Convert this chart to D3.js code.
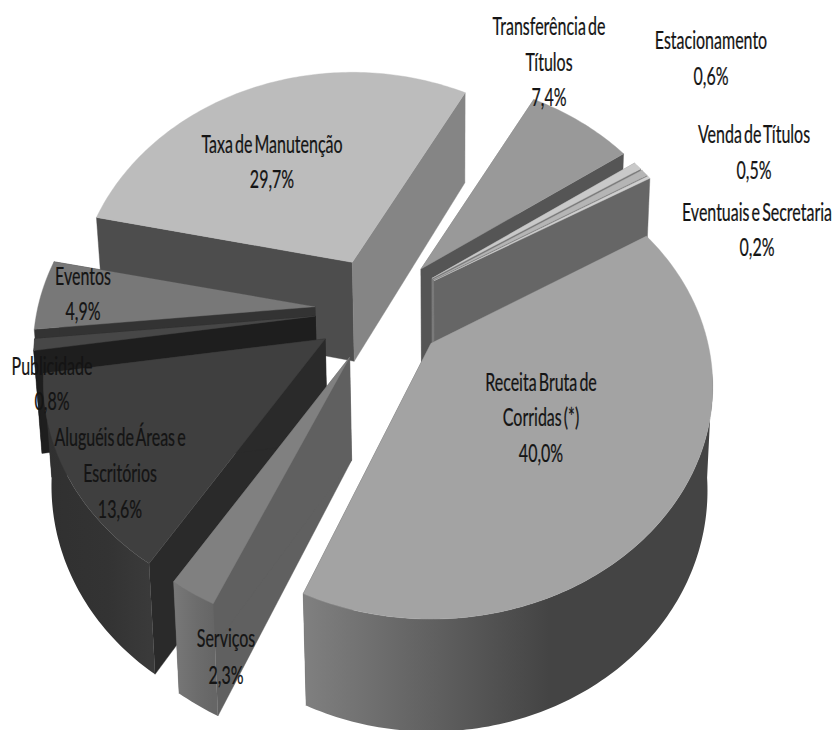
<!DOCTYPE html>
<html><head><meta charset="utf-8">
<style>html,body{margin:0;padding:0;background:#fff}svg{display:block}</style>
<script src="https://cdn.jsdelivr.net/npm/d3@7/dist/d3.min.js"></script>
</head><body><svg id="c" width="838" height="730"></svg>
<script>
// ---- data
const categories = ["Receita Bruta de Corridas (*)","Serviços","Aluguéis de Áreas e Escritórios","Publicidade","Eventos","Taxa de Manutenção","Transferência de Títulos","Estacionamento","Venda de Títulos","Eventuais e Secretaria"];
const values = [40.0,2.3,13.6,0.8,4.9,29.7,7.4,0.6,0.5,0.2];
const valueLabels = ["40,0%","2,3%","13,6%","0,8%","4,9%","29,7%","7,4%","0,6%","0,5%","0,2%"];
const nameLines = [["Receita Bruta de","Corridas (*)"],["Serviços"],["Aluguéis de Áreas e","Escritórios"],["Publicidade"],["Eventos"],["Taxa de Manutenção"],["Transferência de","Títulos"],["Estacionamento"],["Venda de Títulos"],["Eventuais e Secretaria"]];
// ---- styles
const topFill  = ["#a3a3a3","#808080","#3f3f3f","#474747","#787878","#bcbcbc","#999999","#c9c9c9","#b5b5b5","#cfcfcf"];
const startFill= ["#555555","#606060","#2a2a2a","#1e1e1e","#333333","#4d4d4d","#777777","#888888","#888888","#888888"];
const endFill  = ["#555555","#606060","#2a2a2a","#1e1e1e","#333333","#858585","#555555","#7a7a7a","#7a7a7a","#666666"];
const outerStops=[["#808080","#444444","#444444"],["#787878","#6c6c6c","#666666"],["#303030","#333333","#3a3a3a"],["#111111","#111111","#111111"],["#555555","#555555","#555555"],["#666666","#666666","#666666"],["#777777","#777777","#777777"],["#888888","#888888","#888888"],["#888888","#888888","#888888"],["#888888","#888888","#888888"]];
// label centres: x, then y per line
const labelPos = [[541,[382,417,453]],[226,[638,675]],[120,[437,473,509]],[52,[366,401]],[83,[276,311]],[272,[144,179]],[549,[26,62,97]],[711,[40,76]],[754,[134,170]],[757,[212,247]]];
// ---- projection
const W=838,H=730, CX=380, CY=308, F=277, G=225, K=0.184, EXPLODE=0.235, VANISH=450;
const START = 58.5*Math.PI/180, TWIST = 1.7*Math.PI/180;
function hom(u,v){const d=1-K*v;return [F*u/d,G*v/d];}
const depth = V => 101+10*V;
const arcs = d3.pie().sort(null).value(d=>d).startAngle(START).endAngle(START+2*Math.PI)(values);
const svg=d3.select("#c");
const defs=svg.append("defs");
const line=d3.line();
const slices=arcs.map((a,i)=>{
  const mid=(a.startAngle+a.endAngle)/2;
  const eu=EXPLODE*Math.sin(mid), ev=-EXPLODE*Math.cos(mid);
  const [ax,ay]=hom(eu,ev);
  const apexX=CX+ax, apexY=CY+ay;
  const tw=i===0?0:TWIST;
  const xs0=ev<-0.1?0.98:1; // far slices read slightly narrower
  const n=Math.max(4,Math.ceil((a.endAngle-a.startAngle)*60));
  const angs=d3.range(n+1).map(j=>tw+a.startAngle+(a.endAngle-a.startAngle)*j/n);
  const pt=(u,v)=>{const [x,y]=hom(u,v);return {x:apexX+x*xs0,y:apexY+y,V:v+ev,lv:v};};
  const rim=angs.map(t=>pt(Math.sin(t),-Math.cos(t)));
  const apex=pt(0,0);
  const low=p=>[p.x+(VANISH-p.x)*0.02,p.y+depth(p.V)];
  const up=p=>[p.x,p.y];
  return {i,ev,apex,rim,low,up};
});
const order=d3.range(values.length).sort((p,q)=>slices[p].ev-slices[q].ev);
order.forEach(i=>{
  const s=slices[i];
  const g=svg.append("g").attr("class","slice").attr("data-name",categories[i]);
  const first=s.rim[0], last=s.rim[s.rim.length-1];
  const wall=(p,fill)=>g.append("path")
    .attr("d",line([s.up(s.apex),s.up(p),s.low(p),s.low(s.apex)])+"Z").attr("fill",fill).attr("stroke",fill).attr("stroke-width",0.4);
  wall(first,startFill[i]);
  wall(last,endFill[i]);
  const front=s.rim.filter(p=>p.lv>=K-0.06);
  if(front.length>1){
    const xs=front.map(p=>p.x), x0=d3.min(xs), x1=d3.max(xs);
    const id="o"+i;
    const gr=defs.append("linearGradient").attr("id",id).attr("gradientUnits","userSpaceOnUse").attr("x1",x0).attr("x2",x1).attr("y1",0).attr("y2",0);
    gr.append("stop").attr("offset",0).attr("stop-color",outerStops[i][0]);
    gr.append("stop").attr("offset",0.6).attr("stop-color",outerStops[i][1]);
    gr.append("stop").attr("offset",1).attr("stop-color",outerStops[i][2]);
    g.append("path").attr("d",line(front.map(s.up).concat(front.slice().reverse().map(s.low)))+"Z").attr("fill",`url(#${id})`);
  }
  g.append("path").attr("d",line([s.up(s.apex)].concat(s.rim.map(s.up)))+"Z").attr("fill",topFill[i]).attr("stroke",topFill[i]).attr("stroke-width",0.4);
});
// ---- labels
const SX=0.80, SY=1.22;
categories.forEach((c,i)=>{
  const lines=nameLines[i].concat([valueLabels[i]]);
  const [x,ys]=labelPos[i];
  lines.forEach((t,j)=>{
    svg.append("text").attr("transform",`translate(${x},${ys[j]}) scale(${SX},${SY})`)
      .attr("text-anchor","middle").attr("dominant-baseline","central")
      .attr("font-family","Lato, 'Open Sans', sans-serif").attr("font-size",20).attr("fill","#141414")
      .attr("word-spacing",-2.5).attr("stroke","#141414").attr("stroke-width",0.2).text(t);
  });
});
</script></body></html>
